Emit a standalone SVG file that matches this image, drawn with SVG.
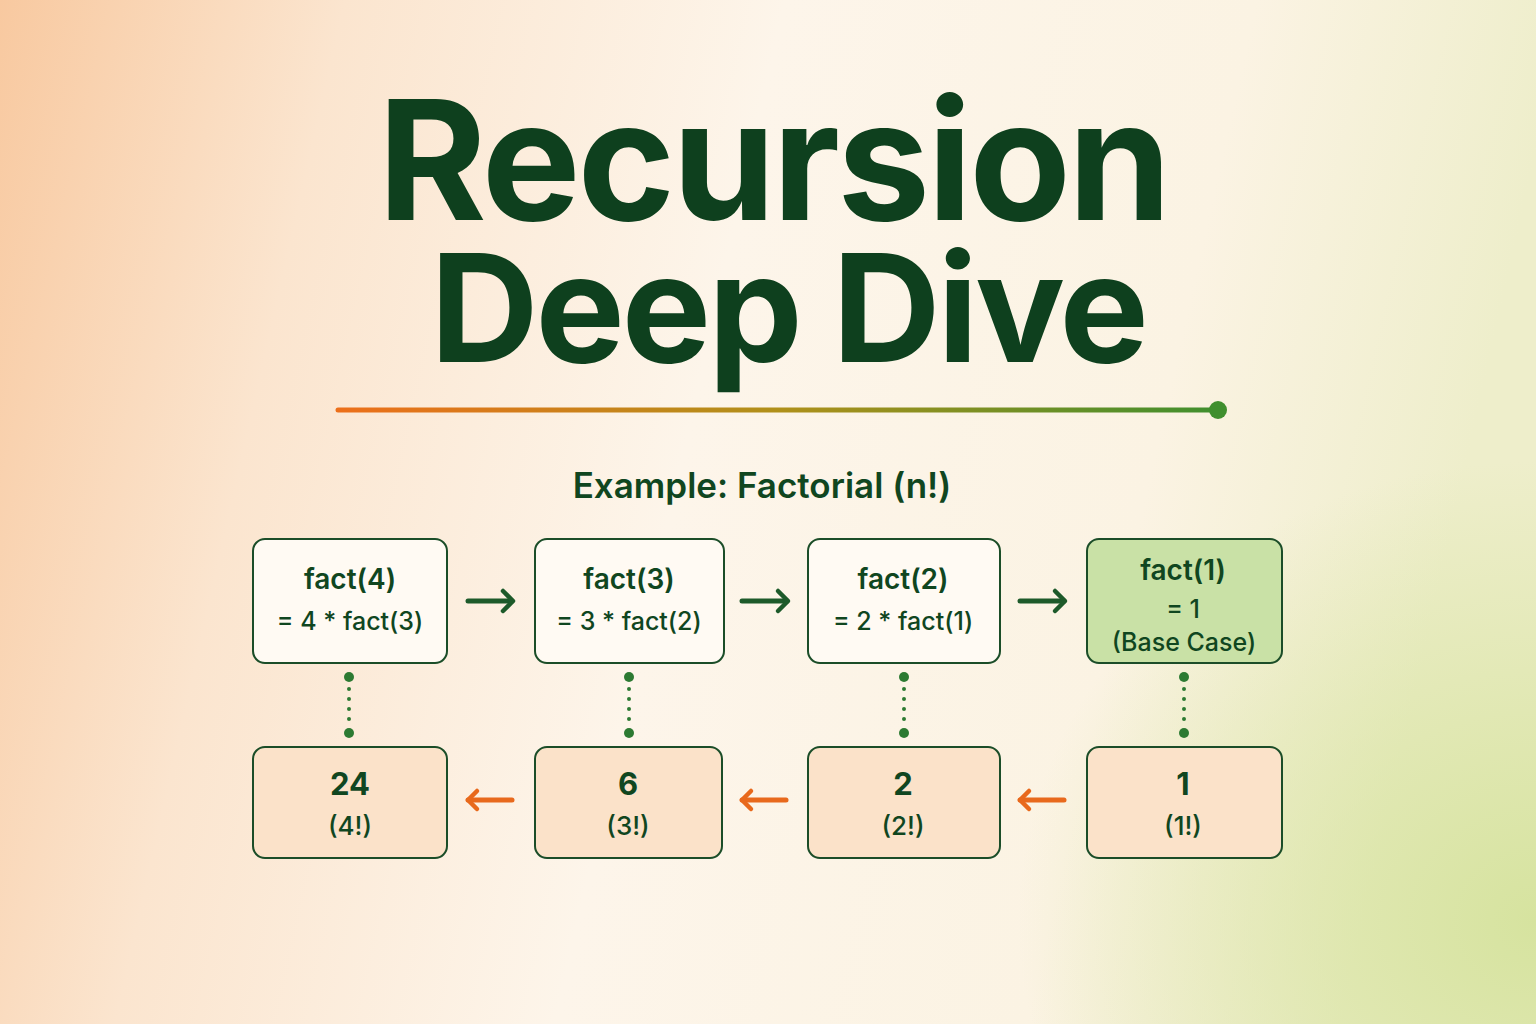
<svg xmlns="http://www.w3.org/2000/svg" width="1536" height="1024" viewBox="0 0 1536 1024">
<defs>
<linearGradient id="bg" x1="0" y1="0" x2="1" y2="0.15">
<stop offset="0" stop-color="#f8c9a0"/>
<stop offset="0.22" stop-color="#fbe5cf"/>
<stop offset="0.5" stop-color="#fdf5ea"/>
<stop offset="0.8" stop-color="#fbf3e3"/>
<stop offset="1" stop-color="#eeeecb"/>
</linearGradient>
<radialGradient id="gr" cx="1" cy="0.9" r="0.45" gradientTransform="translate(0.25 0) scale(0.75 1)">
<stop offset="0" stop-color="#d6e39f" stop-opacity="1"/>
<stop offset="1" stop-color="#d6e39f" stop-opacity="0"/>
</radialGradient>
<linearGradient id="rule" x1="338" y1="0" x2="1218" y2="0" gradientUnits="userSpaceOnUse">
<stop offset="0" stop-color="#ec6f1a"/>
<stop offset="0.5" stop-color="#b0901a"/>
<stop offset="1" stop-color="#3f8f2e"/>
</linearGradient>
<marker id="gh" viewBox="0 0 12 12" refX="9" refY="6" markerWidth="12" markerHeight="12" markerUnits="userSpaceOnUse" orient="auto" overflow="visible">
<path d="M0,-4 L10,6 L0,16" fill="none" stroke="#1d5a2a" stroke-width="4.5" stroke-linecap="round" stroke-linejoin="round"/>
</marker>
<marker id="oh" viewBox="0 0 12 12" refX="9" refY="6" markerWidth="12" markerHeight="12" markerUnits="userSpaceOnUse" orient="auto" overflow="visible">
<path d="M0,-3 L9,6 L0,15" fill="none" stroke="#e8691c" stroke-width="4.5" stroke-linecap="round" stroke-linejoin="round"/>
</marker>
</defs>
<style>
.t{font-family:Inter,"Liberation Sans",sans-serif;fill:#10461f;text-anchor:middle}
.ttl{fill:#0e401e}
.t1{font-size:166px;font-weight:700;letter-spacing:-3px}
.t2{font-size:150px;font-weight:700;letter-spacing:-3px}
.sub{font-size:35px;font-weight:600}
.h{font-size:28px;font-weight:600}
.e{font-size:25px;font-weight:500}
.n{font-size:31px;font-weight:700}
.p{font-size:26px;font-weight:500}
.call{fill:#fffaf3;stroke:#1b4d28;stroke-width:2}
.base{fill:#c9e1a6;stroke:#1b4d28;stroke-width:2}
.ret{fill:#fbe2c9;stroke:#1b4d28;stroke-width:2}
.ga{stroke:#1d5a2a;stroke-width:5;stroke-linecap:round;fill:none}
.oa{stroke:#e8691c;stroke-width:5;stroke-linecap:round;fill:none}
.dl{stroke:#2c7a32;stroke-width:4;stroke-linecap:round;stroke-dasharray:0 10;fill:none}
.dd{fill:#2c7a32}
</style>
<rect width="1536" height="1024" fill="url(#bg)"/>
<rect width="1536" height="1024" fill="url(#gr)"/>

<g id="title">
<text class="t ttl"><tspan class="t1" x="773" y="220">Recursion</tspan><tspan class="t2" x="788" y="362">Deep Dive</tspan></text>
</g>
<g id="rule">
<line x1="338" y1="410" x2="1216" y2="410" stroke="url(#rule)" stroke-width="5" stroke-linecap="round"/>
<circle cx="1218" cy="410" r="9" fill="#3f8f2e"/>
</g>
<text class="t sub" x="762" y="498">Example: Factorial (n!)</text>

<g id="connectors">
<line class="ga" x1="468" y1="601" x2="512" y2="601" marker-end="url(#gh)"/>
<line class="ga" x1="742" y1="601" x2="787" y2="601" marker-end="url(#gh)"/>
<line class="ga" x1="1020" y1="601" x2="1064" y2="601" marker-end="url(#gh)"/>
<line class="oa" x1="512" y1="800" x2="468" y2="800" marker-end="url(#oh)"/>
<line class="oa" x1="786" y1="800" x2="742" y2="800" marker-end="url(#oh)"/>
<line class="oa" x1="1064" y1="800" x2="1020" y2="800" marker-end="url(#oh)"/>
<g>
<line class="dl" x1="349" y1="689" x2="349" y2="722"/>
<circle class="dd" cx="349" cy="677" r="5"/><circle class="dd" cx="349" cy="733" r="5"/>
<line class="dl" x1="629" y1="689" x2="629" y2="722"/>
<circle class="dd" cx="629" cy="677" r="5"/><circle class="dd" cx="629" cy="733" r="5"/>
<line class="dl" x1="904" y1="689" x2="904" y2="722"/>
<circle class="dd" cx="904" cy="677" r="5"/><circle class="dd" cx="904" cy="733" r="5"/>
<line class="dl" x1="1184" y1="689" x2="1184" y2="722"/>
<circle class="dd" cx="1184" cy="677" r="5"/><circle class="dd" cx="1184" cy="733" r="5"/>
</g>
</g>

<g id="fact4">
<rect class="call" x="253" y="539" width="194" height="124" rx="12"/>
<text class="t h" x="350" y="589">fact(4)</text>
<text class="t e" x="350" y="630">= 4 * fact(3)</text>
</g>
<g id="fact3">
<rect class="call" x="535" y="539" width="189" height="124" rx="12"/>
<text class="t h" x="629" y="589">fact(3)</text>
<text class="t e" x="629" y="630">= 3 * fact(2)</text>
</g>
<g id="fact2">
<rect class="call" x="808" y="539" width="192" height="124" rx="12"/>
<text class="t h" x="903" y="589">fact(2)</text>
<text class="t e" x="903" y="630">= 2 * fact(1)</text>
</g>
<g id="fact1">
<rect class="base" x="1087" y="539" width="195" height="124" rx="12"/>
<text class="t h" x="1183" y="580">fact(1)</text>
<text class="t e" x="1183" y="618">= 1</text>
<text class="t e" x="1184" y="651">(Base Case)</text>
</g>

<g id="r4">
<rect class="ret" x="253" y="747" width="194" height="111" rx="12"/>
<text class="t n" x="350" y="795">24</text>
<text class="t p" x="350" y="835">(4!)</text>
</g>
<g id="r3">
<rect class="ret" x="535" y="747" width="187" height="111" rx="12"/>
<text class="t n" x="628" y="795">6</text>
<text class="t p" x="628" y="835">(3!)</text>
</g>
<g id="r2">
<rect class="ret" x="808" y="747" width="192" height="111" rx="12"/>
<text class="t n" x="903" y="795">2</text>
<text class="t p" x="903" y="835">(2!)</text>
</g>
<g id="r1">
<rect class="ret" x="1087" y="747" width="195" height="111" rx="12"/>
<text class="t n" x="1183" y="795">1</text>
<text class="t p" x="1183" y="835">(1!)</text>
</g>
</svg>
